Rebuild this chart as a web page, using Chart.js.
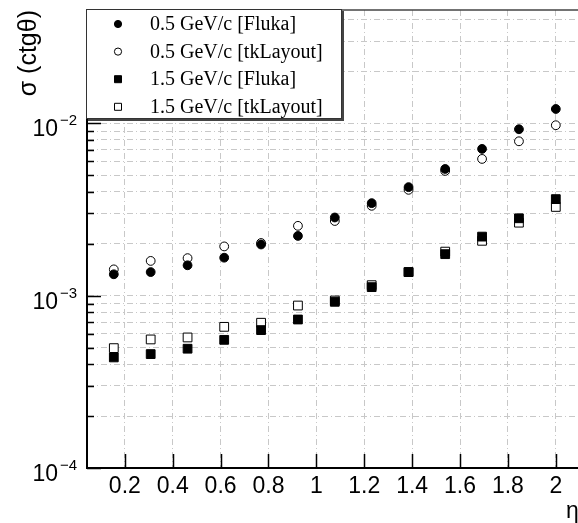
<!DOCTYPE html>
<html>
<head>
<meta charset="utf-8">
<script src="https://cdn.jsdelivr.net/npm/chart.js@4/dist/chart.umd.min.js"></script>
<style>
  html, body { margin: 0; padding: 0; background: #fff; overflow: hidden; width: 578px; height: 523px; }
  canvas { display: block; }
</style>
</head>
<body>
<canvas id="resChart" width="586" height="523"></canvas>
<script>
// eta bin centres
const etaValues = [0.154, 0.308, 0.462, 0.615, 0.769, 0.923, 1.077, 1.231, 1.385, 1.538, 1.692, 1.846, 2.0];

// sigma(ctg theta)
const fluka05 = [1.33e-3, 1.37e-3, 1.50e-3, 1.66e-3, 1.98e-3, 2.22e-3, 2.84e-3, 3.44e-3, 4.26e-3, 5.43e-3, 7.10e-3, 9.23e-3, 1.21e-2];
const tkLayout05 = [1.42e-3, 1.59e-3, 1.65e-3, 1.93e-3, 2.02e-3, 2.54e-3, 2.71e-3, 3.32e-3, 4.11e-3, 5.29e-3, 6.21e-3, 7.86e-3, 9.74e-3];
const fluka15 = [4.38e-4, 4.58e-4, 4.92e-4, 5.54e-4, 6.31e-4, 7.27e-4, 9.21e-4, 1.12e-3, 1.37e-3, 1.74e-3, 2.20e-3, 2.81e-3, 3.63e-3];
const tkLayout15 = [4.96e-4, 5.57e-4, 5.72e-4, 6.59e-4, 6.96e-4, 8.76e-4, 9.37e-4, 1.15e-3, 1.37e-3, 1.80e-3, 2.08e-3, 2.65e-3, 3.27e-3];

const seriesLabels = ["0.5 GeV/c [Fluka]", "0.5 GeV/c [tkLayout]", "1.5 GeV/c [Fluka]", "1.5 GeV/c [tkLayout]"];
const xTickValues = [0.2, 0.4, 0.6, 0.8, 1.0, 1.2, 1.4, 1.6, 1.8, 2.0];
const yDecades = [-4, -3, -2];
const yMin = 1e-4, yMax = 0.0454;
const xMin = 0.042, xMax = 2.096;

Chart.defaults.font.family = "'Liberation Sans', Arial, sans-serif";
Chart.defaults.color = "#000";

function points(ys) {
    return etaValues.map(function (x, i) { return { x: x, y: ys[i] }; });
}

// 1..9 x 10^n grid positions
let yGridValues = [];
yDecades.forEach(function (d) {
    for (let m = 1; m <= 9; m++) {
        const v = m * Math.pow(10, d);
        if (v <= yMax) yGridValues.push(v);
    }
});

const markerStyles = [
    { style: "circle", fill: "#000", r: 4.4 },
    { style: "circle", fill: "#fff", r: 4.4 },
    { style: "rect", fill: "#000", r: 6.2 },
    { style: "rect", fill: "#fff", r: 6.2 }
];
const seriesData = [fluka05, tkLayout05, fluka15, tkLayout15];

const decorPlugin = {
    id: "decor",
    afterDraw: function (chart) {
        const ctx = chart.ctx;
        const area = chart.chartArea;
        const xs = chart.scales.x, ys = chart.scales.y;
        ctx.save();

        // inward tick marks
        ctx.strokeStyle = "#000";
        ctx.lineWidth = 1.5;
        ctx.beginPath();
        xTickValues.forEach(function (v) {
            const px = Math.round(xs.getPixelForValue(v)) + 0.5;
            ctx.moveTo(px, area.bottom);
            ctx.lineTo(px, area.bottom - 14);
        });
        yGridValues.forEach(function (v) {
            const py = Math.round(ys.getPixelForValue(v)) + 0.5;
            const major = Math.abs(Math.log10(v) - Math.round(Math.log10(v))) < 1e-6;
            ctx.moveTo(area.left, py);
            ctx.lineTo(area.left + (major ? 14 : 7), py);
        });
        ctx.stroke();

        // top frame
        ctx.strokeStyle = "#444";
        ctx.lineWidth = 1.5;
        ctx.beginPath();
        ctx.moveTo(area.left, area.top);
        ctx.lineTo(area.right, area.top);
        ctx.stroke();

        // y tick labels 10^n
        ctx.fillStyle = "#000";
        yDecades.forEach(function (d) {
            const py = ys.getPixelForValue(Math.pow(10, d));
            ctx.font = "23px 'Liberation Sans', Arial, sans-serif";
            ctx.textAlign = "right";
            ctx.textBaseline = "alphabetic";
            ctx.fillText("10", 58, py + 13);
            ctx.font = "15px 'Liberation Sans', Arial, sans-serif";
            ctx.textAlign = "left";
            ctx.fillText("\u2212" + Math.abs(d), 60, py + 2);
        });

        // legend box
        const lx = 86, ly = 9, lw = 256, lh = 110;
        ctx.fillStyle = "#444";
        ctx.fillRect(lx + 2, ly + 2, lw, lh);
        ctx.fillStyle = "#fff";
        ctx.fillRect(lx, ly, lw, lh);
        ctx.strokeStyle = "#333";
        ctx.lineWidth = 1;
        ctx.strokeRect(lx + 0.5, ly + 0.5, lw - 1, lh - 1);

        chart.data.datasets.forEach(function (ds, i) {
            const cy = 24 + i * 27.6;
            const m = markerStyles[i];
            ctx.fillStyle = m.fill;
            ctx.strokeStyle = "#000";
            ctx.lineWidth = 1;
            ctx.beginPath();
            if (m.style === "circle") {
                ctx.arc(118, cy, 3.6, 0, Math.PI * 2);
            } else {
                ctx.rect(114.5, cy - 3.5, 7, 7);
            }
            ctx.fill();
            ctx.stroke();

            ctx.fillStyle = "#000";
            ctx.font = "20px 'Liberation Serif', 'Times New Roman', serif";
            ctx.textAlign = "left";
            ctx.textBaseline = "middle";
            ctx.fillText(ds.label, 150, cy + 1);
        });
        ctx.restore();
    }
};

new Chart("resChart", {
    type: "scatter",
    data: {
        datasets: seriesData.map(function (ys, i) {
            return {
                label: seriesLabels[i],
                data: points(ys),
                pointStyle: markerStyles[i].style,
                pointRadius: markerStyles[i].r,
                pointHoverRadius: markerStyles[i].r,
                pointBackgroundColor: markerStyles[i].fill,
                pointBorderColor: "#000",
                pointBorderWidth: 1
            };
        })
    },
    options: {
        responsive: false,
        animation: false,
        layout: { padding: { top: 10, right: 0, left: 0, bottom: 0 } },
        plugins: {
            legend: { display: false },
            tooltip: { enabled: false }
        },
        scales: {
            x: {
                type: "linear",
                min: xMin,
                max: xMax,
                afterBuildTicks: function (scale) {
                    scale.ticks = xTickValues.map(function (v) { return { value: v }; });
                },
                afterFit: function (scale) { scale.height = 55; },
                grid: {
                    color: "#c8c8c8",
                    lineWidth: 1,
                    drawTicks: false
                },
                border: { display: true, color: "#000", width: 2, dash: [6, 3, 1, 3] },
                ticks: {
                    autoSkip: false,
                    maxRotation: 0,
                    padding: 5,
                    font: { size: 23 },
                    callback: function (v) { return String(Math.round(v * 10) / 10); }
                },
                title: {
                    display: true,
                    text: "\u03b7",
                    align: "end",
                    font: { size: 23, lineHeight: 1 },
                    padding: { top: 0, bottom: 0 }
                }
            },
            y: {
                type: "logarithmic",
                min: yMin,
                max: yMax,
                afterBuildTicks: function (scale) {
                    scale.ticks = yGridValues.map(function (v) { return { value: v }; });
                },
                afterFit: function (scale) { scale.width = 87; },
                grid: {
                    color: "#c8c8c8",
                    lineWidth: 1,
                    drawTicks: false
                },
                border: { display: true, color: "#000", width: 2, dash: [6, 3, 1, 3] },
                ticks: { display: false },
                title: {
                    display: true,
                    text: "\u03c3 (ctg\u03b8)",
                    align: "end",
                    font: { size: 25, lineHeight: 1 },
                    padding: { top: 17, bottom: 0 }
                }
            }
        }
    },
    plugins: [decorPlugin]
});
</script>
</body>
</html>
